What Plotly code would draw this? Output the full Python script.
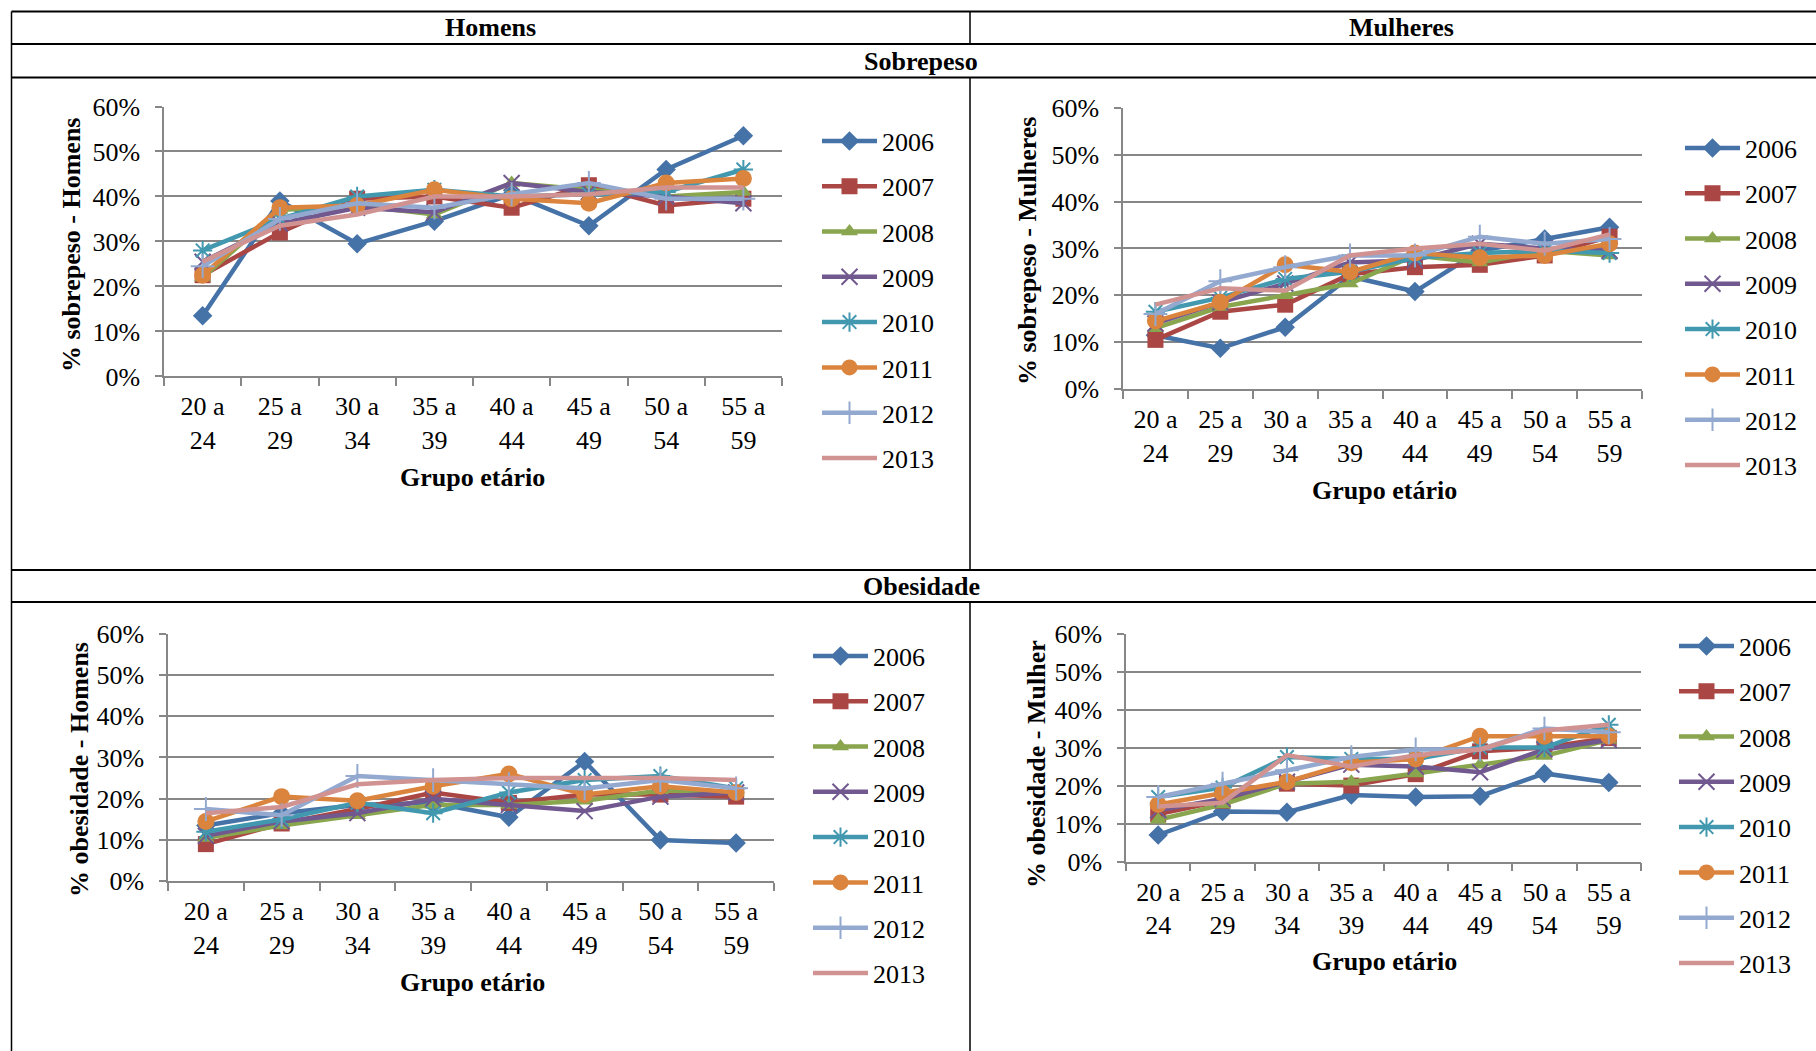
import plotly.graph_objects as go

W, H = 1816, 1051

# Age groups and survey years
grupos = ["20 a<br>24", "25 a<br>29", "30 a<br>34", "35 a<br>39",
          "40 a<br>44", "45 a<br>49", "50 a<br>54", "55 a<br>59"]
anos = ["2006", "2007", "2008", "2009", "2010", "2011", "2012", "2013"]

# Percent values, one row per year (2006..2013)
sobrepeso_homens = [
    [13.5, 39.0, 29.5, 34.5, 40.5, 33.5, 46.0, 53.5],
    [22.5, 32.0, 39.5, 40.0, 37.5, 42.5, 38.0, 39.5],
    [22.0, 37.0, 38.0, 36.0, 43.0, 41.5, 40.0, 41.0],
    [25.5, 34.0, 37.5, 36.5, 43.0, 41.0, 40.0, 38.5],
    [28.0, 35.0, 40.0, 41.5, 40.0, 40.5, 41.0, 46.0],
    [22.5, 37.5, 38.0, 41.5, 39.5, 38.5, 43.0, 44.0],
    [24.5, 35.0, 38.5, 37.5, 40.5, 43.0, 39.5, 39.5],
    [25.5, 33.5, 36.0, 40.0, 40.0, 40.5, 42.0, 42.0],
]
sobrepeso_mulheres = [
    [11.5, 8.7, 13.2, 24.0, 20.8, 29.5, 32.0, 34.5],
    [10.5, 16.5, 18.0, 24.5, 26.0, 26.5, 28.5, 32.5],
    [13.0, 17.5, 20.0, 22.5, 28.5, 27.0, 29.5, 28.5],
    [14.0, 18.5, 22.5, 27.0, 27.5, 31.0, 30.0, 29.5],
    [16.5, 19.5, 23.5, 25.0, 28.0, 29.0, 29.5, 29.0],
    [14.5, 18.5, 26.5, 25.0, 29.0, 28.0, 28.5, 31.0],
    [16.0, 23.0, 26.0, 28.5, 28.5, 32.5, 31.0, 32.0],
    [18.0, 21.5, 21.0, 28.5, 30.0, 31.0, 29.5, 33.0],
]
obesidade_homens = [
    [13.5, 16.5, 18.5, 19.0, 15.5, 29.0, 10.0, 9.3],
    [9.0, 14.0, 17.5, 21.5, 19.0, 21.0, 21.0, 20.5],
    [10.5, 13.5, 16.0, 18.5, 18.5, 19.5, 22.0, 21.5],
    [11.0, 14.5, 16.5, 20.0, 18.5, 17.0, 20.5, 21.5],
    [12.0, 15.0, 19.0, 16.5, 21.5, 24.5, 25.5, 22.5],
    [14.5, 20.5, 19.5, 23.0, 26.0, 21.0, 23.0, 21.5],
    [17.5, 16.0, 25.5, 24.5, 23.5, 22.5, 24.5, 22.5],
    [16.5, 18.0, 23.5, 24.5, 25.0, 25.0, 25.0, 24.5],
]
obesidade_mulher = [
    [7.0, 13.2, 13.0, 17.5, 17.0, 17.2, 23.2, 20.8],
    [12.5, 16.0, 20.5, 20.0, 23.0, 29.0, 30.0, 32.5],
    [11.0, 15.0, 20.5, 21.0, 23.2, 25.5, 27.8, 32.0],
    [13.5, 16.5, 21.0, 25.5, 25.0, 23.5, 29.5, 32.0],
    [17.0, 19.5, 27.5, 27.0, 27.0, 30.0, 30.0, 36.0],
    [15.0, 18.0, 21.0, 26.0, 27.0, 33.0, 33.0, 33.0],
    [17.0, 20.5, 24.0, 27.5, 29.5, 29.5, 35.0, 34.0],
    [14.5, 15.5, 28.0, 25.0, 28.0, 29.5, 34.5, 36.0],
]

# Per-year styling
cores = ["#4572A7", "#AA4643", "#89A54E", "#71588F",
         "#4198AF", "#DB843D", "#93A9CF", "#D19392"]
simbolos = ["diamond", "square", "triangle-up", "x-thin-open",
            "asterisk-open", "circle", "cross-thin-open", None]
tamanhos = [15, 16, 15, 16, 16, 17, 17, 0]

FONT = "Liberation Serif"
GRID = "#878787"


def px_x(p):
    return p / W


def px_y(p):
    return 1 - p / H


# panel: data, axis suffix, domain in pixels (x0, x1, ytop, ybottom), y title,
# y-title centre, x-title centre, legend position
paineis = [
    dict(dados=sobrepeso_homens, ax="", dom=(164, 782, 106.5, 376.4),
         ytit="% sobrepeso - Homens", ytpos=(72, 245), xtpos=(472, 477),
         leg=(817, 117.5)),
    dict(dados=sobrepeso_mulheres, ax="2", dom=(1123, 1642, 107.7, 389.1),
         ytit="% sobrepeso - Mulheres", ytpos=(1028, 251), xtpos=(1384, 490),
         leg=(1680, 124.5)),
    dict(dados=obesidade_homens, ax="3", dom=(168, 774, 633.5, 881.3),
         ytit="% obesidade - Homens", ytpos=(79, 770), xtpos=(472, 982),
         leg=(808, 632.5)),
    dict(dados=obesidade_mulher, ax="4", dom=(1126, 1641, 633.5, 861.6),
         ytit="% obesidade - Mulher", ytpos=(1036, 764), xtpos=(1384, 961),
         leg=(1674, 622.5)),
]

fig = go.Figure()
layout = dict(
    width=W, height=H,
    margin=dict(l=0, r=0, t=0, b=0, autoexpand=False),
    paper_bgcolor="white", plot_bgcolor="white",
    font=dict(family=FONT, size=26, color="black"),
    annotations=[], shapes=[],
)

for i, p in enumerate(paineis):
    ax = p["ax"]
    legname = "legend" if i == 0 else f"legend{i + 1}"
    for k, ano in enumerate(anos):
        marker = dict(color=cores[k], size=tamanhos[k])
        if simbolos[k] is None:
            mode = "lines"
        else:
            mode = "lines+markers"
            marker["symbol"] = simbolos[k]
            if simbolos[k].endswith("-open"):
                marker["line"] = dict(color=cores[k], width=2)
        fig.add_trace(go.Scatter(
            x=grupos, y=p["dados"][k], name=ano, mode=mode,
            line=dict(color=cores[k], width=4.5),
            marker=marker,
            xaxis="x" + ax, yaxis="y" + ax,
            legend=legname, legendgroup=f"{i}-{ano}",
            cliponaxis=False,
        ))

    x0, x1, yt, yb = p["dom"]
    layout["xaxis" + ax] = dict(
        domain=[px_x(x0), px_x(x1)], anchor="y" + ax,
        type="category", range=[-0.5, 7.5], automargin=False,
        showline=True, linecolor=GRID, linewidth=1.5,
        ticks="outside", tickson="boundaries", ticklen=8,
        tickcolor=GRID, tickwidth=1.5,
        showgrid=False, zeroline=False,
        tickfont=dict(family=FONT, size=26, color="black"),
        ticklabelstandoff=6,
    )
    layout["yaxis" + ax] = dict(
        domain=[px_y(yb), px_y(yt)], anchor="x" + ax,
        range=[0, 60], dtick=10, ticksuffix="%", automargin=False,
        showline=True, linecolor=GRID, linewidth=1.5,
        ticks="outside", ticklen=7, tickcolor=GRID, tickwidth=1.5,
        showgrid=True, gridcolor=GRID, gridwidth=1.5, zeroline=False,
        tickfont=dict(family=FONT, size=26, color="black"),
        ticklabelstandoff=10,
    )
    layout["annotations"].append(dict(
        text=f"<b>{p['ytit']}</b>", textangle=-90, showarrow=False,
        xref="paper", yref="paper",
        x=px_x(p["ytpos"][0]), y=px_y(p["ytpos"][1]),
        xanchor="center", yanchor="middle",
        font=dict(family=FONT, size=26, color="black"),
    ))
    layout["annotations"].append(dict(
        text="<b>Grupo etário</b>", showarrow=False,
        xref="paper", yref="paper",
        x=px_x(p["xtpos"][0]), y=px_y(p["xtpos"][1]),
        xanchor="center", yanchor="middle",
        font=dict(family=FONT, size=26, color="black"),
    ))
    layout[legname] = dict(
        x=px_x(p["leg"][0]), y=px_y(p["leg"][1]),
        xanchor="left", yanchor="top",
        bgcolor="rgba(0,0,0,0)", borderwidth=0,
        font=dict(family=FONT, size=26, color="black"),
        itemwidth=55, tracegroupgap=8.5,
        itemclick=False, itemdoubleclick=False,
    )

# Table headers
for texto, cx, cy in [("Homens", 490, 28), ("Mulheres", 1401, 28),
                      ("Sobrepeso", 921, 61), ("Obesidade", 921, 586)]:
    layout["annotations"].append(dict(
        text=f"<b>{texto}</b>", showarrow=False,
        xref="paper", yref="paper", x=px_x(cx), y=px_y(cy),
        xanchor="center", yanchor="middle",
        font=dict(family=FONT, size=26, color="black"),
    ))

# Table rules
def hline(y, w=2):
    layout["shapes"].append(dict(
        type="line", xref="paper", yref="paper",
        x0=px_x(11.5), x1=1.0, y0=px_y(y), y1=px_y(y),
        line=dict(color="black", width=w)))


def vline(x, ya, yb, w=1.5):
    layout["shapes"].append(dict(
        type="line", xref="paper", yref="paper",
        x0=px_x(x), x1=px_x(x), y0=px_y(ya), y1=px_y(yb),
        line=dict(color="black", width=w)))


for y in (11.5, 44, 77.5, 570, 602):
    hline(y)
vline(11.5, 11.5, 1051)
vline(970, 11.5, 44)
vline(970, 77.5, 570)
vline(970, 602, 1051)

fig.update_layout(**layout)
fig.write_html("out.html")
